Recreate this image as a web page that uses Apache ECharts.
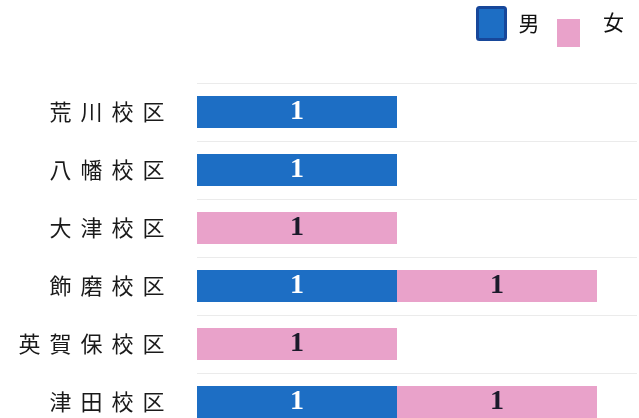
<!DOCTYPE html>
<html>
<head>
<meta charset="utf-8">
<script src="https://cdn.jsdelivr.net/npm/echarts@6/dist/echarts.min.js"></script>
<style>
  html, body { margin: 0; padding: 0; background: #ffffff; width: 639px; height: 418px; overflow: hidden; }
  /* the last row runs past the bottom edge, so the canvas is taller than the view */
  #chart { width: 639px; height: 431px; }
</style>
</head>
<body>
<div id="chart"></div>
<script>
// School districts, top to bottom
const districts = ['荒川校区', '八幡校区', '大津校区', '飾磨校区', '英賀保校区', '津田校区'];
// Counts per district (null = none)
const maleCounts = [1, 1, null, 1, null, 1];
const femaleCounts = [null, null, 1, 1, 1, 1];
const seriesNames = ['男', '女'];

const BLUE = '#1d6ec4';
const PINK = '#e9a2ca';

const chart = echarts.init(document.getElementById('chart'));

// Each character in its own fixed-width box to get the wide letter spacing
function spaced(name) {
  return name.split('').map(ch => '{c|' + ch + '}').join('');
}

const valueLabel = (color) => ({
  show: true,
  position: 'inside',
  color: color,
  fontFamily: 'Liberation Serif',
  fontWeight: 'bold',
  fontSize: 28
});

chart.setOption({
  animation: false,
  backgroundColor: '#ffffff',
  legend: [
    {
      data: [{ name: seriesNames[0], itemStyle: { borderColor: '#17479a', borderWidth: 3 } }],
      left: 476,
      top: 6,
      padding: 0,
      icon: 'path://M2,0 L26,0 Q28,0 28,2 L28,30 Q28,32 26,32 L2,32 Q0,32 0,30 L0,2 Q0,0 2,0 Z',
      itemWidth: 28,
      itemHeight: 32,
      itemGap: 0,
      textStyle: { fontFamily: 'Noto Sans CJK JP', fontSize: 21, color: '#111111', padding: [0, 0, 4, 8] }
    },
    {
      data: [seriesNames[1]],
      left: 557,
      top: -3,
      padding: 0,
      // swatch sits in the lower part of a taller box so the label stays level with 男
      icon: 'path://M0,0 L23,0 M0,22 L23,22 L23,50 L0,50 Z',
      itemWidth: 23,
      itemHeight: 50,
      itemGap: 0,
      textStyle: { fontFamily: 'Noto Sans CJK JP', fontSize: 21, color: '#111111', padding: [0, 0, 0, 18] }
    }
  ],
  grid: { left: 197, right: 2, top: 83, bottom: 0, containLabel: false },
  xAxis: {
    type: 'value',
    min: 0,
    max: 2.2,
    show: false
  },
  yAxis: {
    type: 'category',
    data: districts,
    inverse: true,
    axisLine: { show: false },
    axisTick: { show: false },
    splitLine: { show: true, lineStyle: { color: '#ebebeb', width: 1 } },
    axisLabel: {
      margin: 28,
      formatter: spaced,
      rich: {
        c: { width: 31, align: 'center', fontFamily: 'Noto Sans CJK JP', fontSize: 22, color: '#1a1a1a' }
      }
    }
  },
  series: [
    {
      name: seriesNames[0],
      type: 'bar',
      stack: 'total',
      barWidth: 32,
      data: maleCounts,
      itemStyle: { color: BLUE },
      label: valueLabel('#ffffff')
    },
    {
      name: seriesNames[1],
      type: 'bar',
      stack: 'total',
      barWidth: 32,
      data: femaleCounts,
      itemStyle: { color: PINK },
      label: valueLabel('#1a1a2a')
    }
  ]
});
</script>
</body>
</html>
